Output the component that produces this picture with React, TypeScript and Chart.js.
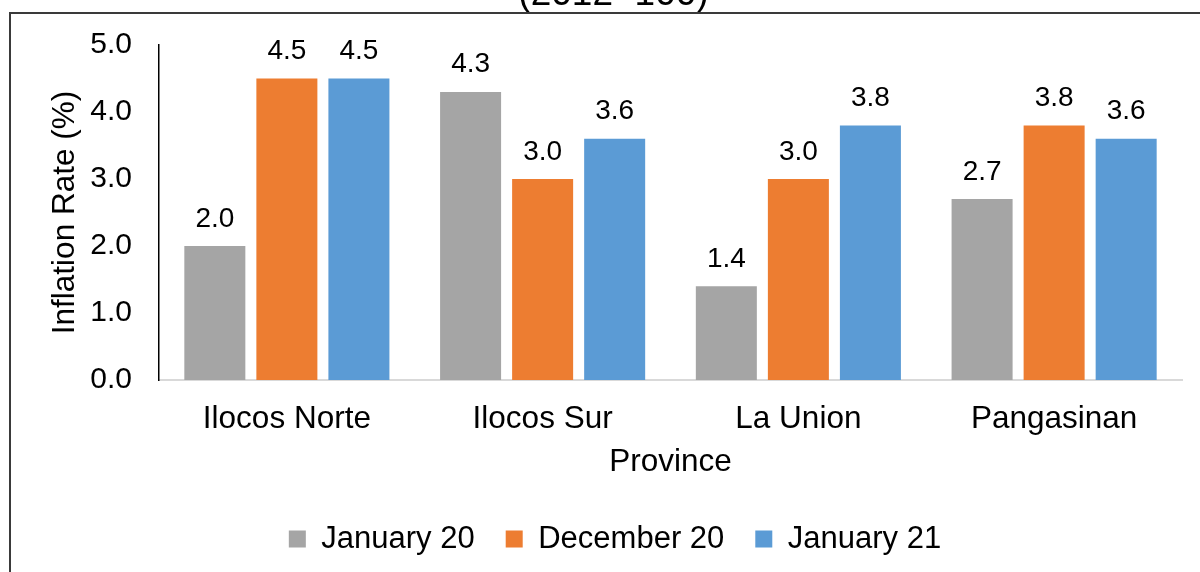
import React, { useEffect, useRef } from "react";
import { Chart, registerables } from "chart.js";

Chart.register(...registerables);

const provinces = ["Ilocos Norte", "Ilocos Sur", "La Union", "Pangasinan"];
const january20 = [2.0, 4.3, 1.4, 2.7];
const december20 = [4.5, 3.0, 3.0, 3.8];
const january21 = [4.5, 3.6, 3.8, 3.6];
const seriesNames = ["January 20", "December 20", "January 21"];
const yTicks = [0, 1, 2, 3, 4, 5];

const FONT = "'Liberation Sans', Arial, sans-serif";

const valueLabels = {
  id: "valueLabels",
  afterDatasetsDraw(chart: any) {
    const ctx = chart.ctx;
    ctx.save();
    ctx.font = `28px ${FONT}`;
    ctx.fillStyle = "#000";
    ctx.textAlign = "center";
    ctx.textBaseline = "alphabetic";
    chart.data.datasets.forEach((ds: any, i: number) => {
      const meta = chart.getDatasetMeta(i);
      meta.data.forEach((bar: any, j: number) => {
        const v = ds.data[j];
        ctx.fillText(Number(v).toFixed(1), bar.x, bar.y - 19.5);
      });
    });
    ctx.restore();
  },
};

const shiftBoxes = {
  id: "shiftBoxes",
  afterLayout(chart: any) {
    if (chart.legend) {
      chart.legend.left += 24;
      chart.legend.right += 24;
    }
    if (chart.titleBlock) {
      chart.titleBlock.left += 22.5;
      chart.titleBlock.right += 22.5;
    }
  },
};

export default function App() {
  const ref = useRef<HTMLCanvasElement>(null);
  useEffect(() => {
    if (!ref.current) return;
    const chart = new Chart(ref.current, {
      type: "bar",
      data: {
        labels: provinces,
        datasets: [
          { label: seriesNames[0], data: january20, backgroundColor: "#A5A5A5" },
          { label: seriesNames[1], data: december20, backgroundColor: "#ED7D31" },
          { label: seriesNames[2], data: january21, backgroundColor: "#5B9BD5" },
        ],
      },
      options: {
        responsive: false,
        animation: false,
        events: [],
        datasets: {
          bar: { categoryPercentage: 0.845, barPercentage: 0.847 },
        },
        layout: { padding: { left: 0, right: 18, top: 0, bottom: 7.5 } },
        plugins: {
          title: {
            display: true,
            text: "(2012=100)",
            color: "#000",
            font: { family: FONT, size: 37, weight: "normal" },
            padding: { top: 6.9, bottom: 27.7 },
          },
          legend: {
            position: "bottom",
            labels: {
              color: "#000",
              font: { family: FONT, size: 31 },
              boxWidth: 17,
              boxHeight: 17,
              padding: 31,
            },
          },
          tooltip: { enabled: false },
        },
        scales: {
          x: {
            grid: { display: false, drawTicks: false },
            border: { display: true, color: "#D9D9D9", width: 2 },
            ticks: { color: "#000", font: { family: FONT, size: 31.5 }, padding: 20 },
            title: {
              display: true,
              text: "Province",
              color: "#000",
              font: { family: FONT, size: 31.5 },
              padding: { top: 0, bottom: 11.1 },
            },
            afterFit: (s: any) => {
              s.height = 112.5;
            },
          },
          y: {
            min: 0,
            max: 5,
            grid: { display: false, drawTicks: false },
            border: { display: true, color: "#000", width: 1.5 },
            afterBuildTicks: (s: any) => {
              s.ticks = yTicks.map((v) => ({ value: v }));
            },
            ticks: {
              color: "#000",
              font: { family: FONT, size: 30 },
              padding: 27,
              callback: (v: any) => Number(v).toFixed(1),
            },
            title: {
              display: true,
              text: "Inflation Rate (%)",
              color: "#000",
              font: { family: FONT, size: 31.5 },
              padding: { top: 46, bottom: 0 },
            },
            afterFit: (s: any) => {
              s.width = 159;
            },
          },
        },
      },
      plugins: [valueLabels, shiftBoxes],
    });
    return () => chart.destroy();
  }, []);

  return (
    <div
      style={{
        position: "fixed",
        left: 0,
        top: 0,
        width: 1200,
        height: 572,
        overflow: "hidden",
        background: "#fff",
      }}
    >
      <canvas
        ref={ref}
        width={1200}
        height={606}
        style={{ position: "absolute", left: 0, top: -34, width: 1200, height: 606 }}
      />
      <div
        style={{
          position: "absolute",
          left: 9,
          top: 12,
          width: 1220,
          height: 620,
          borderLeft: "2px solid #3a3a3a",
          borderTop: "2px solid #3a3a3a",
          pointerEvents: "none",
        }}
      />
    </div>
  );
}
